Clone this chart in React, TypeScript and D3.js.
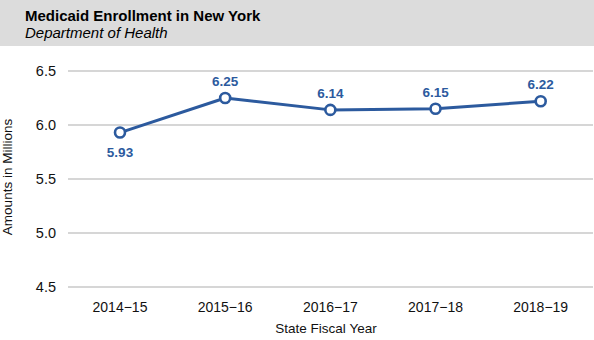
import React from "react";
import * as d3 from "d3";

const categories = ["2014\u221215", "2015\u221216", "2016\u221217", "2017\u221218", "2018\u221219"];
const values = [5.93, 6.25, 6.14, 6.15, 6.22];
const labelBelow = [true, false, false, false, false];
const yTicks = [4.5, 5.0, 5.5, 6.0, 6.5];

const W = 594;
const H = 340;
const FONT = "'Liberation Sans', Arial, sans-serif";
const BLUE = "#2c5a9e";

export default function App() {
  const x = d3.scalePoint<string>().domain(categories).range([120, 540.7]);
  const y = d3.scaleLinear().domain([4.5, 6.5]).range([287, 71]);
  const line = d3
    .line<number>()
    .x((_, i) => x(categories[i]) as number)
    .y((d) => y(d));

  return (
    <svg
      width={W}
      height={H}
      style={{ position: "absolute", left: 0, top: 0, background: "#fff" }}
      fontFamily={FONT}
    >
      <rect x={0} y={0} width={W} height={46} fill="#dcdcdc" />
      <text x={25} y={21} fontSize={15} fontWeight="bold" fill="#000">
        Medicaid Enrollment in New York
      </text>
      <text x={25} y={38} fontSize={15} fontStyle="italic" fill="#000">
        Department of Health
      </text>

      {yTicks.map((t) => (
        <g key={t}>
          <line x1={68} x2={593} y1={y(t)} y2={y(t)} stroke="#c8c8c8" strokeWidth={1.3} />
          <text x={56} y={y(t)} dy="0.35em" textAnchor="end" fontSize={14.5} fill="#111">
            {t.toFixed(1)}
          </text>
        </g>
      ))}

      <text
        transform={`translate(12,${(y(4.5) + y(6.5)) / 2 - 2}) rotate(-90)`}
        textAnchor="middle"
        fontSize={13.5}
        fill="#111"
      >
        Amounts in Millions
      </text>

      {categories.map((c) => (
        <text key={c} x={x(c)} y={312} textAnchor="middle" fontSize={14} fill="#111">
          {c}
        </text>
      ))}
      <text x={326} y={333} textAnchor="middle" fontSize={13.5} fill="#111">
        State Fiscal Year
      </text>

      <path d={line(values) || ""} fill="none" stroke={BLUE} strokeWidth={3} strokeLinejoin="round" />
      {values.map((v, i) => (
        <g key={i}>
          <circle cx={x(categories[i])} cy={y(v)} r={5} fill="#fff" stroke={BLUE} strokeWidth={2.6} />
          <text
            x={x(categories[i])}
            y={labelBelow[i] ? y(v) + 24 : y(v) - 12}
            textAnchor="middle"
            fontSize={13.5}
            fontWeight="bold"
            fill={BLUE}
          >
            {v.toFixed(2)}
          </text>
        </g>
      ))}
    </svg>
  );
}
